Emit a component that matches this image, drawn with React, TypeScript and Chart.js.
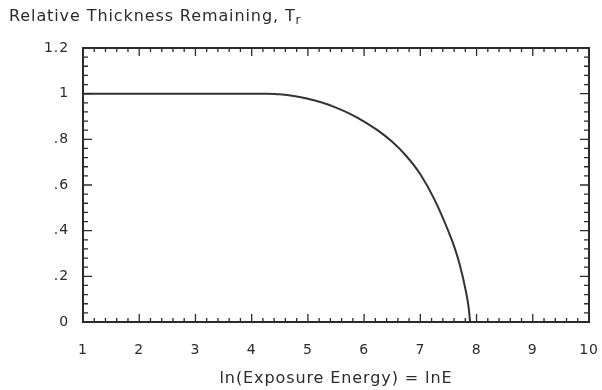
import React, { useEffect, useRef } from "react";
import { Chart, registerables } from "chart.js";
Chart.register(...registerables);

const lnE = [1, 1.5, 2, 2.5, 3, 3.5, 4, 4.25, 4.5, 4.75, 5, 5.25, 5.5, 5.75, 6, 6.25, 6.5, 6.75, 7, 7.25, 7.5, 7.6, 7.7, 7.8, 7.86, 7.885];
const thickness = [1, 1, 1, 1, 1, 1, 1, 0.9995, 0.997, 0.99, 0.978, 0.961, 0.939, 0.9115, 0.878, 0.838, 0.789, 0.727, 0.647, 0.537, 0.397, 0.332, 0.252, 0.147, 0.062, 0];

const xTickValues = [1, 2, 3, 4, 5, 6, 7, 8, 9, 10];
const xTickLabels = ["1", "2", "3", "4", "5", "6", "7", "8", "9", "10"];
const yTickValues = [0, 0.2, 0.4, 0.6, 0.8, 1, 1.2];
const yTickLabels = ["0", ".2", ".4", ".6", ".8", "1", "1.2"];
const xMinorStep = 0.2;
const yMinorStep = 0.04;

const yTitle = "Relative Thickness Remaining, T";
const yTitleSub = "r";
const xTitle = "ln(Exposure Energy) = lnE";

const FONT = "'DejaVu Sans', sans-serif";
const INK = "#2b2b2b";

const framePlugin = {
  id: "frame",
  beforeDraw(chart: any) {
    chart.ctx.letterSpacing = "0.9px";
  },
  afterDraw(chart: any) {
    const { ctx, chartArea: a, scales } = chart;
    const xs = scales.x;
    const ys = scales.y;
    ctx.save();
    ctx.strokeStyle = INK;
    ctx.lineWidth = 1.3;
    const near = (v: number, arr: number[]) => arr.some((t) => Math.abs(t - v) < 1e-6);
    for (let i = 0; ; i++) {
      const v = xs.min + i * xMinorStep;
      if (v > xs.max + 1e-6) break;
      const px = xs.getPixelForValue(v);
      const major = near(v, xTickValues);
      const len = major ? 8 : 4;
      ctx.beginPath();
      ctx.moveTo(px, a.bottom);
      ctx.lineTo(px, a.bottom - len);
      ctx.moveTo(px, a.top);
      ctx.lineTo(px, a.top + len);
      ctx.stroke();
    }
    for (let i = 0; ; i++) {
      const v = ys.min + i * yMinorStep;
      if (v > ys.max + 1e-6) break;
      const py = ys.getPixelForValue(v);
      const major = near(v, yTickValues);
      const len = major ? 9 : 5;
      ctx.beginPath();
      ctx.moveTo(a.left, py);
      ctx.lineTo(a.left + len, py);
      ctx.moveTo(a.right, py);
      ctx.lineTo(a.right - len, py);
      ctx.stroke();
    }
    ctx.lineWidth = 2;
    ctx.strokeRect(a.left, a.top, a.right - a.left, a.bottom - a.top);
    ctx.fillStyle = INK;
    ctx.font = "16px " + FONT;
    ctx.letterSpacing = "0.9px";
    ctx.textBaseline = "alphabetic";
    ctx.textAlign = "left";
    const tx = 9;
    const ty = 21;
    ctx.fillText(yTitle, tx, ty);
    const w = ctx.measureText(yTitle).width;
    ctx.font = "12px " + FONT;
    ctx.letterSpacing = "0px";
    ctx.fillText(yTitleSub, tx + w, ty + 3);
    ctx.restore();
  },
};

export default function App() {
  const ref = useRef<HTMLCanvasElement | null>(null);
  useEffect(() => {
    document.body.style.margin = "0";
    const canvas = ref.current;
    if (!canvas) return;
    const chart = new Chart(canvas, {
      type: "line",
      data: {
        datasets: [
          {
            data: lnE.map((x, i) => ({ x, y: thickness[i] })),
            borderColor: "#333333",
            borderWidth: 2,
            pointRadius: 0,
            cubicInterpolationMode: "monotone",
            fill: false,
            clip: false as any,
          },
        ],
      },
      options: {
        responsive: false,
        animation: false,
        events: [],
        layout: { padding: { top: 48, right: 0, left: 0, bottom: 0 } },
        plugins: { legend: { display: false }, tooltip: { enabled: false }, title: { display: false } },
        scales: {
          x: {
            type: "linear",
            min: 1,
            max: 10,
            afterFit: (s: any) => {
              s.height = 68;
              s.paddingRight = 13;
              s.paddingLeft = 0;
            },
            afterBuildTicks: (s: any) => {
              s.ticks = xTickValues.map((v) => ({ value: v }));
            },
            grid: { display: false, drawTicks: false },
            border: { display: false },
            ticks: {
              padding: 20,
              color: INK,
              font: { family: FONT, size: 14 },
              maxRotation: 0,
              autoSkip: false,
              callback: (v: any) => {
                const i = xTickValues.findIndex((t) => Math.abs(t - v) < 1e-6);
                return i >= 0 ? xTickLabels[i] : "";
              },
            },
            title: {
              display: true,
              text: xTitle,
              color: INK,
              font: { family: FONT, size: 16 },
              padding: { top: 0, bottom: 2 },
            },
          },
          y: {
            type: "linear",
            min: 0,
            max: 1.2,
            afterFit: (s: any) => {
              s.width = 83;
            },
            afterBuildTicks: (s: any) => {
              s.ticks = yTickValues.map((v) => ({ value: v }));
            },
            grid: { display: false, drawTicks: false },
            border: { display: false },
            ticks: {
              padding: 14,
              color: INK,
              font: { family: FONT, size: 14 },
              autoSkip: false,
              callback: (v: any) => {
                const i = yTickValues.findIndex((t) => Math.abs(t - v) < 1e-6);
                return i >= 0 ? yTickLabels[i] : "";
              },
            },
          },
        },
      },
      plugins: [framePlugin],
    } as any);
    return () => chart.destroy();
  }, []);
  return (
    <div style={{ width: 602, height: 390, background: "#ffffff" }}>
      <canvas ref={ref} width={602} height={390} />
    </div>
  );
}
